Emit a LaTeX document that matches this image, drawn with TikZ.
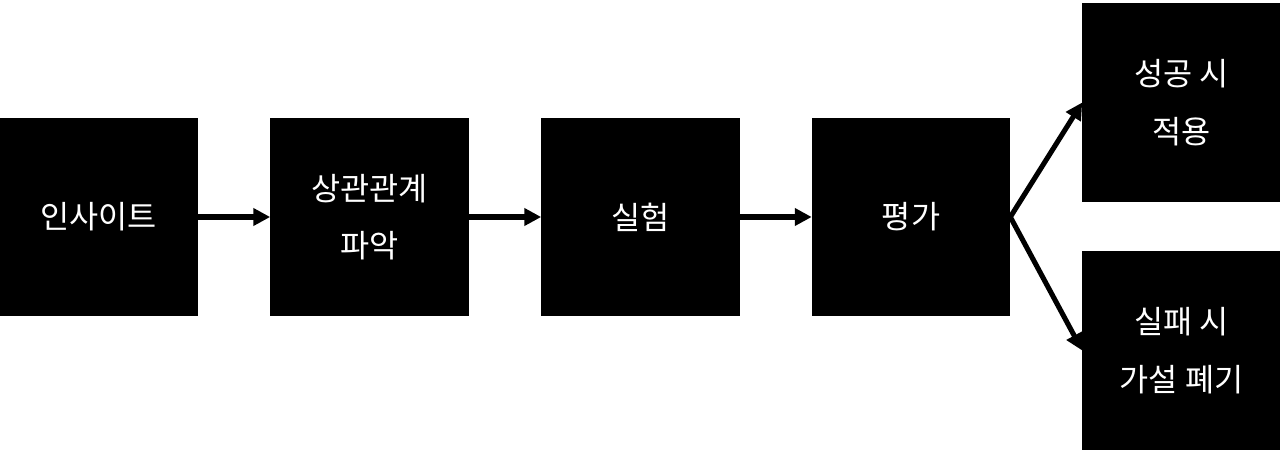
\documentclass[tikz,border=0pt]{standalone}
\usepackage{fontspec}
\setmainfont{Noto Sans CJK KR}
\usetikzlibrary{arrows.meta,positioning}

\begin{document}
\begin{tikzpicture}[x=0.025cm,y=-0.025cm,
 >={Triangle[length=12pt,width=12pt]},
 box/.style={fill=black,text=white,minimum width=4.95cm,minimum height=4.95cm,inner sep=0pt,align=center,font=\fontsize{22.5}{41}\selectfont},
 flow/.style={->,line width=3.6pt}]
\useasboundingbox (0,0) rectangle (1280,452);
\node[box] (insight) at (98.5,217) {인사이트};
\node[box] (corr) at (369.5,217) {상관관계\\파악};
\node[box] (exper) at (640.5,217) {실험};
\node[box] (eval) at (911,217) {평가};
\node[box] (success) at (1181.5,102.5) {성공 시\\적용};
\node[box] (fail) at (1181.5,350.5) {실패 시\\가설 폐기};
\draw[flow] (insight) -- (corr);
\draw[flow] (corr) -- (exper);
\draw[flow] (exper) -- (eval);
\draw[flow] (eval.east) -- (success.west);
\draw[flow] (eval.east) -- (fail.west);
\end{tikzpicture}
\end{document}
